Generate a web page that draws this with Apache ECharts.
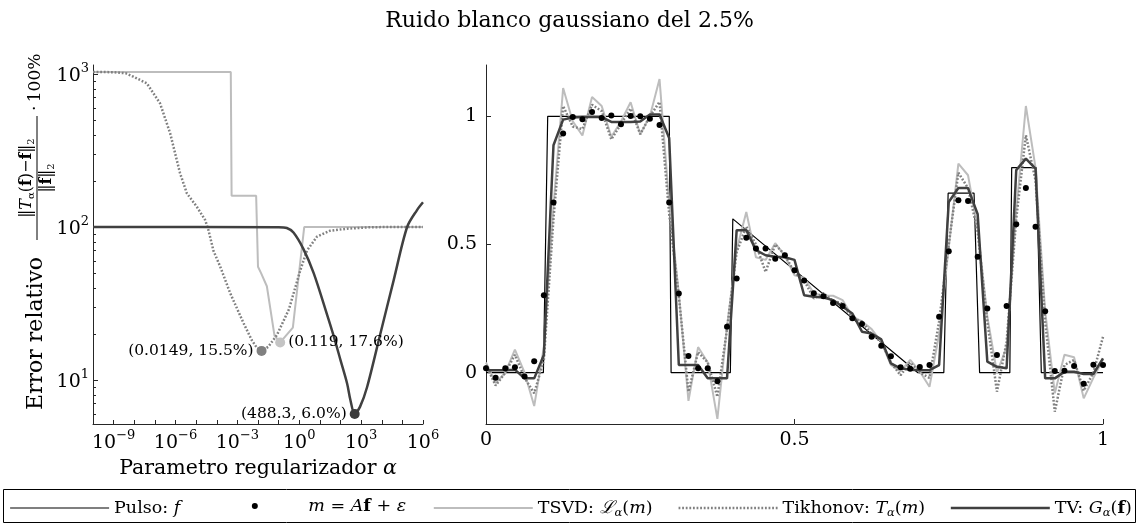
<!DOCTYPE html>
<html><head><meta charset="utf-8">
<script src="https://cdn.jsdelivr.net/npm/echarts@6/dist/echarts.min.js"></script>
<style>html,body{margin:0;padding:0;background:#fff}#c{width:1139px;height:524px}</style>
</head><body><div id="c"></div>
<script>
// ---------- Left panel: relative error vs regularization parameter ----------
const tsvdAlpha = [1e-10, 4.79e-4, 5.25e-4, 8.13e-3, 1.0e-2, 1.41e-2, 2.69e-2, 6.31e-2, 0.119, 0.49, 1.74, 1e6];
const tsvdErr   = [1030, 1030, 160, 160, 55, 50, 41, 19.5, 17.6, 22, 100, 100];

const tikAlpha = [1e-10, 1e-9, 3.98e-9, 9.12e-9, 4.07e-8, 1.78e-7, 5.5e-7, 1.66e-6, 3.55e-6, 1.07e-5, 2.75e-5, 3.98e-5, 6.92e-5, 1.48e-4, 4.47e-4, 2.0e-3, 5.01e-3, 8.91e-3, 0.0149, 0.0316, 0.0832, 0.316, 1.12, 2.34, 7.24, 31.6, 209, 3162, 1e6];
const tikErr   = [1030, 1028, 1010, 960, 869, 643, 410, 225, 166, 136, 111, 95, 70, 55, 37, 23.5, 18.2, 16.2, 15.5, 16.5, 19.7, 29, 52, 70, 86.5, 94.6, 97.5, 99.8, 100];

const tvAlpha = [1e-10, 0.1, 0.251, 0.525, 1.58, 5.01, 21.9, 46.2, 100, 209, 302, 488.3, 891, 1950, 8510, 38000, 170000, 513000, 1e6];
const tvErr   = [100, 99.8, 98.5, 92, 72, 50, 27, 19.5, 13.5, 9.5, 7.4, 6.0, 6.7, 9.0, 20, 45, 100, 129, 145];

const optNames = ['Tikhonov', 'TSVD', 'TV'];
const optAlpha = [0.0149, 0.119, 488.3];
const optErr   = [15.5, 17.6, 6.0];

const xMajorTicks = [1e-10,1e-9,1e-8,1e-7,1e-6,1e-5,1e-4,1e-3,1e-2,1e-1,1,10,100,1e3,1e4,1e5,1e6];
const xTickLabels = [1e-9, 1e-6, 1e-3, 1, 1e3, 1e6];
const yTickLabels = [10, 100, 1000];
const yMinorTicks = [6,7,8,9,20,30,40,50,60,70,80,90,200,300,400,500,600,700,800,900];

// ---------- Right panel: signals ----------
const nSamples = 65;
const mVals = [0.017,-0.02,0.017,0.021,-0.015,0.045,0.302,0.664,0.933,0.997,
 0.988,1.017,0.993,1.003,0.969,1.001,1.0,0.99,0.966,0.664,
 0.309,0.065,0.017,0.017,-0.033,0.179,0.367,0.526,0.484,0.484,
 0.444,0.458,0.40,0.36,0.31,0.298,0.272,0.26,0.212,0.19,
 0.14,0.105,0.064,0.021,0.015,0.022,0.03,0.218,0.474,0.673,
 0.67,0.452,0.25,0.069,0.26,0.579,0.72,0.569,0.24,0.007,
 0.008,0.026,-0.043,0.031,0.03];
const tsvdRec = [0.04,-0.04,0.0,0.09,0.0,-0.13,0.10,0.65,1.11,0.98,
 0.925,1.075,1.04,0.92,0.98,1.055,0.93,1.0,1.145,0.66,
 0.31,-0.11,0.10,0.04,-0.18,0.18,0.48,0.627,0.45,0.44,
 0.505,0.455,0.38,0.37,0.31,0.30,0.30,0.283,0.22,0.20,
 0.17,0.12,0.03,0.005,0.05,0.005,-0.055,0.15,0.49,0.815,
 0.77,0.56,0.22,0.0,0.10,0.63,1.04,0.80,0.24,-0.08,
 0.07,0.06,-0.10,-0.02,0.05];
const tikRec = [0.03,-0.05,0.0,0.07,-0.02,-0.08,0.05,0.60,1.04,0.96,
 0.95,1.045,1.02,0.91,0.97,1.03,0.93,1.0,1.056,0.62,
 0.30,-0.074,0.08,0.04,-0.094,0.17,0.47,0.57,0.50,0.393,
 0.50,0.46,0.39,0.36,0.29,0.31,0.28,0.27,0.21,0.20,
 0.15,0.12,0.04,-0.01,0.04,0.0,-0.02,0.20,0.50,0.78,
 0.72,0.55,0.20,-0.074,0.12,0.60,0.926,0.75,0.20,-0.152,
 0.03,0.05,-0.07,0.0,0.14];
const tvRec = [0.01,0.01,0.01,0.012,-0.022,-0.022,0.069,0.887,0.987,0.995,
 0.997,0.997,0.997,0.978,0.978,0.978,0.98,1.007,1.007,0.915,
 0.03,0.03,0.03,-0.022,-0.022,-0.022,0.556,0.556,0.478,0.458,
 0.452,0.45,0.44,0.302,0.296,0.293,0.283,0.257,0.231,0.16,
 0.153,0.13,0.036,0.017,0.012,0.01,0.01,0.03,0.666,0.72,
 0.72,0.618,0.043,0.023,0.017,0.79,0.835,0.796,-0.022,-0.022,
 0.004,0.004,-0.005,-0.005,0.056];
const pulseX = [0, 0.093, 0.1, 0.297, 0.3, 0.396, 0.4, 0.7, 0.742, 0.749, 0.791, 0.8, 0.849, 0.852, 0.892, 0.9, 1];
const pulseY = [0, 0, 1, 1, 0, 0, 0.6, 0, 0, 0.7, 0.7, 0, 0, 0.8, 0.8, 0, 0];
const rightTicks = [0, 0.5, 1];

// ---------- helpers ----------
const FONT = '"DejaVu Serif", "Liberation Serif", serif';
const xs = Array.from({length: nSamples}, (_, i) => i / (nSamples - 1));
const zip = (a, b) => a.map((v, i) => [v, b[i]]);
const C_TSVD = '#bdbdbd', C_TIK = '#808080', C_TV = '#404040', C_AX = '#262626';
const LS = {
  'Pulso': {color: '#000', width: 1.2},
  'TSVD': {color: C_TSVD, width: 2},
  'Tikhonov': {color: C_TIK, width: 2.5, type: [1.8, 1.8]},
  'TV': {color: C_TV, width: 2.5}
};

function supLabel(v) {
  const e = Math.round(Math.log10(v));
  return '{b|10}{sup|' + (e < 0 ? '\u2212' + (-e) : e) + '}';
}
const supRich = {
  b: {fontFamily: FONT, fontSize: 19, color: '#000', lineHeight: 24, verticalAlign: 'bottom'},
  sup: {fontFamily: FONT, fontSize: 13, color: '#000', verticalAlign: 'top', lineHeight: 24}
};

// ---------- legend (text as rich fragments) ----------
const LF = 17.5, LSUB = 11.5;
const legendRich = {
  t: {fontFamily: FONT, fontSize: LF, color: '#000'},
  i: {fontFamily: FONT, fontSize: LF, fontStyle: 'italic', color: '#000'},
  bf: {fontFamily: FONT, fontSize: LF, fontWeight: 'bold', color: '#000'},
  sub: {fontFamily: FONT, fontSize: LSUB, fontStyle: 'italic', color: '#000', verticalAlign: 'bottom', lineHeight: 22}
};
const legendNames = ['Pulso', 'm', 'TSVD', 'Tikhonov', 'TV'];
const legendParts = {
  'Pulso': [['t', 'Pulso: '], ['i', 'f']],
  'm': [['i', 'm'], ['t', ' = '], ['i', 'A'], ['bf', 'f'], ['t', ' + '], ['i', '\u03b5']],
  'TSVD': [['t', 'TSVD: '], ['i', '\u2112'], ['sub', '\u03b1'], ['t', '('], ['i', 'm'], ['t', ')']],
  'Tikhonov': [['t', 'Tikhonov: '], ['i', 'T'], ['sub', '\u03b1'], ['t', '('], ['i', 'm'], ['t', ')']],
  'TV': [['t', 'TV: '], ['i', 'G'], ['sub', '\u03b1'], ['t', '('], ['bf', 'f'], ['t', ')']]
};
const richStr = (parts) => parts.map(p => '{' + p[0] + '|' + p[1] + '}').join('');
const mctx = document.createElement('canvas').getContext('2d');
function partsWidth(parts) {
  let w = 0;
  parts.forEach(([k, s]) => {
    const st = legendRich[k];
    mctx.font = (st.fontStyle || 'normal') + ' normal ' + (st.fontWeight || 'normal') + ' ' + st.fontSize + 'px ' + FONT;
    w += mctx.measureText(s).width;
  });
  return w;
}
const BOX_L = 3.5, BOX_R = 1135.5, PAD = 6, TOKEN = 99, TGAP = 4, LEG_Y = 506;
const textW = legendNames.map(n => partsWidth(legendParts[n]));
const sumText = textW.reduce((a, b) => a + b, 0);
const itemGap = (BOX_R - BOX_L - 2 * PAD - legendNames.length * (TOKEN + TGAP) - sumText) / (legendNames.length - 1);
const tokenStart = [];
{
  let x = BOX_L + PAD;
  legendNames.forEach((n, i) => { tokenStart.push(x); x += TOKEN + TGAP + textW[i] + itemGap; });
}

function mkLineLegend(i) {
  const name = legendNames[i];
  return {
    data: [name], left: tokenStart[i], top: LEG_Y - 7, padding: 0,
    itemWidth: TOKEN, itemHeight: 14, itemTextGap: TGAP, selectedMode: false,
    itemStyle: {opacity: 0},
    lineStyle: LS[name],
    formatter: () => richStr(legendParts[name]),
    textStyle: {rich: legendRich, fontFamily: FONT, fontSize: LF, color: '#000'}
  };
}

const chart = echarts.init(document.getElementById('c'), null, {renderer: 'canvas'});

const leftSeries = [
  {name: 'TSVD', type: 'line', xAxisIndex: 0, yAxisIndex: 0, data: zip(tsvdAlpha, tsvdErr), symbol: 'none', lineStyle: LS['TSVD'], itemStyle: {color: C_TSVD}, z: 2},
  {name: 'Tikhonov', type: 'line', xAxisIndex: 0, yAxisIndex: 0, data: zip(tikAlpha, tikErr), symbol: 'none', lineStyle: LS['Tikhonov'], itemStyle: {color: C_TIK}, z: 3},
  {name: 'TV', type: 'line', xAxisIndex: 0, yAxisIndex: 0, data: zip(tvAlpha, tvErr), symbol: 'none', smooth: 0.3, lineStyle: LS['TV'], itemStyle: {color: C_TV}, z: 4}
];
const optColors = [C_TIK, '#c4c4c4', '#3a3a3a'];
const optPos = ['left', 'right', 'left'];
optNames.forEach((n, i) => {
  leftSeries.push({
    name: 'opt' + n, type: 'scatter', xAxisIndex: 0, yAxisIndex: 0,
    data: [[optAlpha[i], optErr[i]]], symbolSize: 10, z: 6,
    itemStyle: {color: optColors[i], opacity: 1},
    label: {show: true, position: optPos[i], distance: 3, fontFamily: FONT, fontSize: 15.5, color: '#000',
      formatter: (p) => '(' + p.value[0] + ', ' + p.value[1].toFixed(1) + '%)'}
  });
});

const rightSeries = [
  {name: 'Pulso', type: 'line', xAxisIndex: 1, yAxisIndex: 2, data: zip(pulseX, pulseY), symbol: 'none', lineStyle: LS['Pulso'], itemStyle: {color: '#000'}, z: 2},
  {name: 'TSVD', type: 'line', xAxisIndex: 1, yAxisIndex: 2, data: zip(xs, tsvdRec), symbol: 'none', lineStyle: LS['TSVD'], itemStyle: {color: C_TSVD}, z: 3},
  {name: 'Tikhonov', type: 'line', xAxisIndex: 1, yAxisIndex: 2, data: zip(xs, tikRec), symbol: 'none', lineStyle: LS['Tikhonov'], itemStyle: {color: C_TIK}, z: 4},
  {name: 'TV', type: 'line', xAxisIndex: 1, yAxisIndex: 2, data: zip(xs, tvRec), symbol: 'none', lineStyle: LS['TV'], itemStyle: {color: C_TV}, z: 5},
  {name: 'm', type: 'scatter', xAxisIndex: 1, yAxisIndex: 2, data: zip(xs, mVals), symbolSize: 6, itemStyle: {color: '#000', opacity: 1}, z: 6}
];

const axisLineStyle = {show: true, onZero: false, lineStyle: {color: C_AX, width: 1}};

const option = {
  animation: false,
  backgroundColor: '#fff',
  title: {text: 'Ruido blanco gaussiano del 2.5%', left: 'center', top: 5,
    textStyle: {fontFamily: FONT, fontSize: 22, fontWeight: 'normal', color: '#000'}},
  grid: [
    {left: 93, top: 65, width: 330, height: 359},
    {left: 486, top: 65, width: 617, height: 359}
  ],
  xAxis: [
    {type: 'log', gridIndex: 0, logBase: 10, min: 1e-10, max: 1e6,
      axisLine: axisLineStyle, splitLine: {show: false},
      axisTick: {show: true, inside: true, length: 4, lineStyle: {color: C_AX}, customValues: xMajorTicks},
      axisLabel: {customValues: xTickLabels, formatter: supLabel, rich: supRich, margin: 5},
      name: 'Parametro regularizador {a|\u03b1}', nameLocation: 'middle', nameGap: 29,
      nameTextStyle: {fontFamily: FONT, fontSize: 20.5, color: '#000', rich: {a: {fontFamily: FONT, fontSize: 20.5, fontStyle: 'italic', color: '#000'}}}},
    {type: 'value', gridIndex: 1, min: 0, max: 1,
      axisLine: axisLineStyle, splitLine: {show: false},
      axisTick: {show: true, inside: true, length: 5, lineStyle: {color: C_AX}, customValues: rightTicks},
      axisLabel: {customValues: rightTicks, fontFamily: FONT, fontSize: 19, color: '#000', margin: 7}}
  ],
  yAxis: [
    {type: 'log', gridIndex: 0, logBase: 10, min: 5.16, max: 1145,
      axisLine: axisLineStyle, splitLine: {show: false},
      axisTick: {show: true, inside: true, length: 5, lineStyle: {color: C_AX}, customValues: yTickLabels},
      axisLabel: {customValues: yTickLabels, formatter: supLabel, rich: supRich, margin: 4}},
    {type: 'log', gridIndex: 0, logBase: 10, min: 5.16, max: 1145, position: 'left', offset: 0,
      axisLine: {show: false}, splitLine: {show: false},
      axisTick: {show: true, inside: true, length: 3, lineStyle: {color: C_AX}, customValues: yMinorTicks},
      axisLabel: {show: false}},
    {type: 'value', gridIndex: 1, min: -0.2, max: 1.2,
      axisLine: axisLineStyle, splitLine: {show: false},
      axisTick: {show: true, inside: true, length: 5, lineStyle: {color: C_AX}, customValues: rightTicks},
      axisLabel: {customValues: rightTicks, fontFamily: FONT, fontSize: 19, color: '#000', margin: 9}}
  ],
  legend: [
    mkLineLegend(0),
    {data: ['m'], left: tokenStart[1] + TOKEN / 2 - 3, top: LEG_Y - 3, padding: 0, itemWidth: 6, itemHeight: 6, itemTextGap: 0,
      selectedMode: false, formatter: () => '', textStyle: {fontSize: 1}},
    mkLineLegend(2),
    mkLineLegend(3),
    mkLineLegend(4)
  ],
  graphic: [
    {type: 'rect', shape: {x: BOX_L, y: 489.5, width: BOX_R - BOX_L, height: 33}, style: {fill: 'none', stroke: '#000', lineWidth: 1}, silent: true},
    {type: 'text', x: tokenStart[1] + TOKEN + TGAP, y: LEG_Y, silent: true, style: {text: richStr(legendParts['m']), rich: legendRich, verticalAlign: 'middle', align: 'left'}},
    {type: 'group', x: 36, y: 410, rotation: Math.PI / 2, silent: true, children: [
      {type: 'text', x: 0, y: 0, style: {text: 'Error relativo', fontFamily: FONT, fontSize: 22, fill: '#000', verticalAlign: 'middle', align: 'left'}},
      {type: 'text', x: 232, y: -9, style: {
        text: '{t|\u2016}{i|T}{s|\u03b1}{t|(}{b|f}{t|)\u2212}{b|f}{t|\u2016}{s|2}',
        rich: {t: {fontFamily: FONT, fontSize: 16, fill: '#000'}, i: {fontFamily: FONT, fontSize: 16, fontStyle: 'italic', fill: '#000'},
               b: {fontFamily: FONT, fontSize: 16, fontWeight: 'bold', fill: '#000'}, s: {fontFamily: FONT, fontSize: 10, fill: '#000', verticalAlign: 'bottom', lineHeight: 19}},
        verticalAlign: 'middle', align: 'center'}},
      {type: 'line', shape: {x1: 170, y1: 1, x2: 294, y2: 1}, style: {stroke: '#000', lineWidth: 1}},
      {type: 'text', x: 232, y: 11, style: {
        text: '{t|\u2016}{b|f}{t|\u2016}{s|2}',
        rich: {t: {fontFamily: FONT, fontSize: 16, fill: '#000'}, b: {fontFamily: FONT, fontSize: 16, fontWeight: 'bold', fill: '#000'},
               s: {fontFamily: FONT, fontSize: 10, fill: '#000', verticalAlign: 'bottom', lineHeight: 19}},
        verticalAlign: 'middle', align: 'center'}},
      {type: 'text', x: 299, y: 0, style: {text: '\u00b7\u2009100%', fontFamily: FONT, fontSize: 17, fill: '#000', verticalAlign: 'middle', align: 'left'}}
    ]}
  ],
  series: leftSeries.concat(rightSeries)
};
chart.setOption(option);
</script></body></html>
